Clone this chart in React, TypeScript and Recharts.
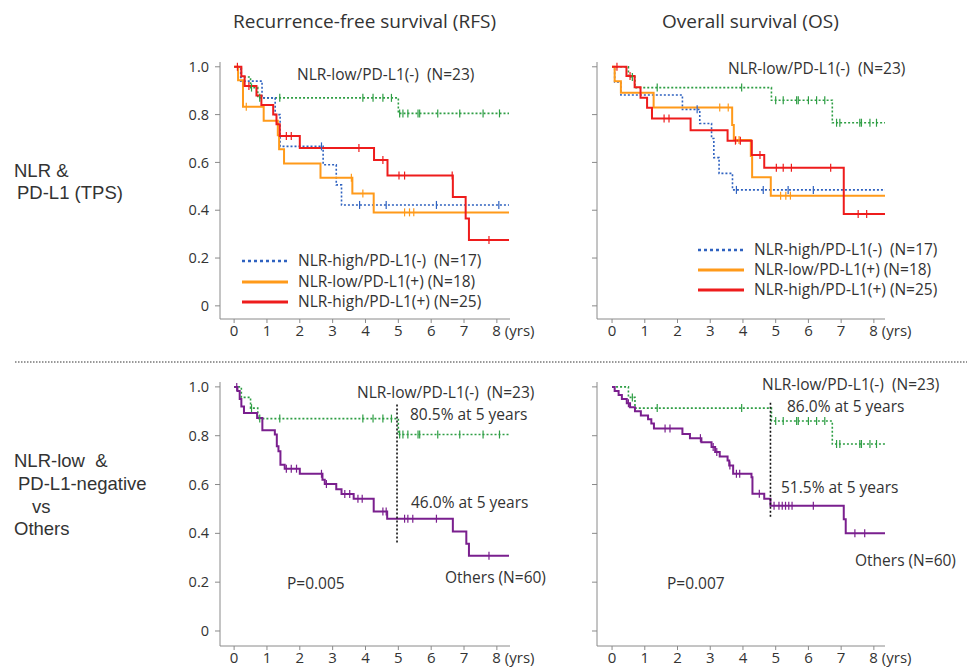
import { LineChart, Line, XAxis, YAxis } from "recharts"

const yearTicks = [0, 1, 2, 3, 4, 5, 6, 7, 8]
const survTicks = [0, 0.2, 0.4, 0.6, 0.8, 1]

// RFS, NLR-low/PD-L1(-) (N=23)
const rfsLowNegT = [0, 0.22, 0.5, 0.72, 5.0]
const rfsLowNegS = [1, 0.957, 0.913, 0.87, 0.805]
const rfsLowNegC = [0.53, 0.78, 1.39, 3.92, 4.23, 4.53, 4.79, 5.04, 5.14, 5.29, 5.6, 5.65, 6.2, 6.87, 7.58, 8.08]

// RFS, NLR-high/PD-L1(-) (N=17)
const rfsHighNegT = [0, 0.2, 0.85, 1.25, 1.4, 2.71, 3.11, 3.27]
const rfsHighNegS = [1, 0.94, 0.87, 0.8, 0.667, 0.59, 0.506, 0.422]
const rfsHighNegC = [2.66, 3.82, 4.63, 6.16, 8.06]

// RFS, NLR-low/PD-L1(+) (N=18)
const rfsLowPosT = [0, 0.12, 0.27, 0.9, 1.33, 1.37, 1.52, 2.63, 3.6, 4.25]
const rfsLowPosS = [1, 0.944, 0.833, 0.774, 0.714, 0.655, 0.595, 0.536, 0.47, 0.391]
const rfsLowPosC = [0.37, 3.57, 3.92, 5.19, 5.34, 5.47]

// RFS, NLR-high/PD-L1(+) (N=25)
const rfsHighPosT = [0, 0.22, 0.32, 0.68, 0.83, 1.19, 1.29, 1.39, 2.0, 4.26, 4.67, 6.66, 7.05, 7.15]
const rfsHighPosS = [1, 0.96, 0.92, 0.88, 0.84, 0.8, 0.76, 0.71, 0.66, 0.61, 0.545, 0.455, 0.365, 0.275]
const rfsHighPosC = [0.1, 0.45, 1.59, 1.74, 3.8, 4.53, 5.02, 5.19, 6.64, 7.76]

// RFS, Others (N=60)
const rfsOthersT = [0, 0.1, 0.17, 0.22, 0.3, 0.7, 0.86, 1.24, 1.3, 1.35, 1.41, 1.54, 2.0, 2.69, 2.76, 3.11, 3.27, 3.64, 4.25, 4.66, 6.66, 7.07, 7.15]
const rfsOthersS = [1, 0.983, 0.95, 0.92, 0.893, 0.873, 0.822, 0.805, 0.757, 0.736, 0.681, 0.665, 0.644, 0.62, 0.602, 0.581, 0.561, 0.542, 0.49, 0.46, 0.408, 0.357, 0.308]
const rfsOthersC = [0.08, 1.59, 1.74, 1.9, 2.66, 2.81, 3.37, 3.52, 3.77, 3.9, 4.53, 4.63, 5.19, 5.29, 5.44, 6.16, 7.76]

// OS, NLR-low/PD-L1(-) (N=23)
const osLowNegT = [0, 0.5, 0.7, 4.87, 6.73]
const osLowNegS = [1, 0.957, 0.913, 0.86, 0.766]
const osLowNegC = [0.62, 1.38, 3.96, 5.0, 5.23, 5.64, 5.69, 6.0, 6.25, 6.5, 6.86, 6.96, 7.57, 7.62, 7.88, 8.08]

// OS, NLR-high/PD-L1(-) (N=17)
const osHighNegT = [0, 0.08, 0.27, 2.15, 2.68, 3.04, 3.11, 3.27, 3.68]
const osHighNegS = [1, 0.937, 0.882, 0.822, 0.763, 0.7, 0.62, 0.554, 0.485]
const osHighNegC = [2.6, 3.8, 4.62, 5.38, 6.15]

// OS, NLR-low/PD-L1(+) (N=18)
const osLowPosT = [0, 0.08, 0.27, 1.27, 3.67, 3.72, 4.24, 4.28, 4.85]
const osLowPosS = [1, 0.94, 0.891, 0.83, 0.756, 0.694, 0.627, 0.538, 0.461]
const osLowPosC = [3.29, 3.55, 3.78, 3.88, 5.15, 5.31, 5.45]

// OS, NLR-high/PD-L1(+) (N=25)
const osHighPosT = [0, 0.44, 0.69, 0.87, 1.07, 1.22, 2.4, 3.53, 4.27, 4.65, 7.08]
const osHighPosS = [1, 0.961, 0.914, 0.87, 0.829, 0.784, 0.735, 0.691, 0.631, 0.578, 0.384]
const osHighPosC = [0.15, 0.55, 1.59, 1.74, 3.77, 3.92, 4.52, 5.02, 5.23, 5.48, 6.68, 7.52, 7.78]

// OS, Others (N=60)
const osOthersT = [0, 0.08, 0.2, 0.3, 0.45, 0.55, 0.7, 0.88, 1.1, 1.2, 1.28, 2.15, 2.38, 2.73, 3.04, 3.15, 3.29, 3.53, 3.58, 3.7, 4.26, 4.29, 4.65, 4.84, 7.08, 7.14]
const osOthersS = [1, 0.983, 0.967, 0.95, 0.933, 0.917, 0.9, 0.883, 0.867, 0.85, 0.83, 0.807, 0.79, 0.773, 0.754, 0.733, 0.715, 0.698, 0.678, 0.644, 0.63, 0.562, 0.542, 0.513, 0.458, 0.4]
const osOthersC = [0.5, 1.62, 1.77, 2.7, 3.09, 3.2, 3.6, 3.8, 3.9, 4.5, 4.95, 5.1, 5.2, 5.3, 5.4, 5.5, 6.15, 7.42, 7.72]

// 5-year marker lines
const rfsFiveYr = [{ t: 4.96, s: 0.362 }, { t: 4.96, s: 0.934 }]
const osFiveYr = [{ t: 4.84, s: 0.468 }, { t: 4.84, s: 0.938 }]

const GREEN = "#2e9e44"
const BLUE = "#2f62c0"
const ORANGE = "#ff9a1a"
const RED = "#ee1c1c"
const PURPLE = "#7a1f8e"
const AXIS = "#8a8a8a"
const TEXT = "#333"
const FONT = "'Open Sans', sans-serif"
const SIDE_FONT = "'Liberation Sans', Arial, sans-serif"

function km(times: number[], surv: number[], cens: number[], end: number) {
  const at = (x: number) => {
    let v = surv[0]
    times.forEach((t, i) => { if (t <= x) v = surv[i] })
    return v
  }
  const pts = times.map((t, i) => ({ t, s: surv[i], c: 0 }))
  cens.forEach((x) => pts.push({ t: x, s: at(x), c: 1 }))
  pts.push({ t: end, s: at(end), c: 0 })
  return pts.sort((a, b) => a.t - b.t)
}

const censorDot = (color: string) => (props: any) => {
  const { cx, cy, payload, index } = props
  if (!payload || !payload.c) return <g key={`n${index}`} />
  return <path key={`c${index}`} d={`M${cx},${cy - 4}V${cy + 4}`} stroke={color} strokeWidth={1.2} />
}

const XTick = (props: any) => {
  const { x, y, payload } = props
  const v = payload.value
  return (
    <text x={v === 8 ? x - 4.5 : x} y={y + 11} textAnchor={v === 8 ? "start" : "middle"}
      fontSize={15} fontFamily={FONT} fill={TEXT}>
      {v === 8 ? "8 (yrs)" : v}
    </text>
  )
}

const fmtY = (v: number) => (v === 0 ? "0" : v === 1 ? "1.0" : v.toFixed(1))

interface Series { data: any[]; color: string; width: number; dash?: string }

function Panel({ left, top, w, h, xMax, xMin, yMin, series, labels }: {
  left: number; top: number; w: number; h: number; xMin: number; xMax: number; yMin: number
  series: Series[]; labels: boolean
}) {
  const yw = 60, xh = 35, mt = 5, mr = 50
  return (
    <div style={{ position: "absolute", left: left - yw, top: top - mt }}>
      <LineChart width={yw + w + mr} height={mt + h + xh} margin={{ top: mt, right: mr, left: 0, bottom: 0 }}>
        <XAxis type="number" dataKey="t" domain={[xMin, xMax]} ticks={yearTicks} allowDataOverflow
          height={xh} tickSize={4} stroke={AXIS} tick={<XTick />} interval={0} />
        <YAxis type="number" dataKey="s" domain={[yMin, 1.02]} ticks={survTicks} allowDataOverflow
          width={yw} tickSize={5} tickMargin={6} stroke={AXIS} interval={0}
          tickFormatter={labels ? fmtY : () => ""}
          tick={{ fontSize: 14.5, fontFamily: FONT, fill: TEXT }} />
        {series.map((s, i) => (
          <Line key={i} data={s.data} dataKey="s" type="stepAfter" stroke={s.color}
            strokeWidth={s.width} strokeDasharray={s.dash} dot={censorDot(s.color)}
            activeDot={false} isAnimationActive={false} />
        ))}
      </LineChart>
    </div>
  )
}

function Txt({ x, y, size = 15.5, font = FONT, children }: { x: number; y: number; size?: number; font?: string; children: any }) {
  return (
    <div style={{ position: "absolute", left: x, top: y - size * 0.52, fontSize: size, lineHeight: 1,
      fontFamily: font, color: TEXT, whiteSpace: "pre" }}>{children}</div>
  )
}

function LegendRow({ x, y, color, dash, label }: { x: number; y: number; color: string; dash?: string; label: string }) {
  return (
    <>
      <svg style={{ position: "absolute", left: x, top: y - 3 }} width={48} height={6}>
        <line x1={0} y1={3} x2={46} y2={3} stroke={color} strokeWidth={dash ? 2.5 : 3} strokeDasharray={dash} />
      </svg>
      <Txt x={x + 56} y={y}>{label}</Txt>
    </>
  )
}

export default function App() {
  const end1 = 8.37, end2 = 8.34
  const dotted = "2 2"
  const topLeft: Series[] = [
    { data: km(rfsLowNegT, rfsLowNegS, rfsLowNegC, end1), color: GREEN, width: 1.6, dash: dotted },
    { data: km(rfsHighNegT, rfsHighNegS, rfsHighNegC, end1), color: BLUE, width: 1.6, dash: dotted },
    { data: km(rfsLowPosT, rfsLowPosS, rfsLowPosC, end1), color: ORANGE, width: 2 },
    { data: km(rfsHighPosT, rfsHighPosS, rfsHighPosC, end1), color: RED, width: 2 },
  ]
  const topRight: Series[] = [
    { data: km(osLowNegT, osLowNegS, osLowNegC, end2), color: GREEN, width: 1.6, dash: dotted },
    { data: km(osHighNegT, osHighNegS, osHighNegC, end2), color: BLUE, width: 1.6, dash: dotted },
    { data: km(osLowPosT, osLowPosS, osLowPosC, end2), color: ORANGE, width: 2 },
    { data: km(osHighPosT, osHighPosS, osHighPosC, end2), color: RED, width: 2 },
  ]
  const botLeft: Series[] = [
    { data: km(rfsLowNegT, rfsLowNegS, rfsLowNegC, end1), color: GREEN, width: 1.6, dash: dotted },
    { data: km(rfsOthersT, rfsOthersS, rfsOthersC, end1), color: PURPLE, width: 2 },
    { data: rfsFiveYr, color: "#111", width: 1.6, dash: dotted },
  ]
  const botRight: Series[] = [
    { data: km(osLowNegT, osLowNegS, osLowNegC, end2), color: GREEN, width: 1.6, dash: dotted },
    { data: km(osOthersT, osOthersS, osOthersC, end2), color: PURPLE, width: 2 },
    { data: osFiveYr, color: "#111", width: 1.6, dash: dotted },
  ]

  return (
    <div style={{ position: "relative", width: 967, height: 671, background: "#fff", overflow: "hidden" }}>
      <style>{`body{margin:0}`}</style>
      <Txt x={233} y={22} size={19}>Recurrence-free survival (RFS)</Txt>
      <Txt x={662} y={22} size={19}>Overall survival (OS)</Txt>

      <Txt x={14} y={172} size={18.5} font={SIDE_FONT}>NLR &amp;</Txt>
      <Txt x={17} y={194} size={18.5} font={SIDE_FONT}>PD-L1 (TPS)</Txt>
      <Txt x={14} y={462} size={18.5} font={SIDE_FONT}>{"NLR-low  &"}</Txt>
      <Txt x={18} y={485} size={18.5} font={SIDE_FONT}>PD-L1-negative</Txt>
      <Txt x={32} y={508} size={18.5} font={SIDE_FONT}>vs</Txt>
      <Txt x={14} y={530} size={18.5} font={SIDE_FONT}>Others</Txt>

      <Panel left={220} top={62} w={290} h={257} xMin={-0.43} xMax={8.4} yMin={-0.055} series={topLeft} labels />
      <Panel left={597} top={62} w={288} h={257} xMin={-0.46} xMax={8.34} yMin={-0.055} series={topRight} labels={false} />
      <Panel left={220} top={382} w={290} h={264} xMin={-0.43} xMax={8.4} yMin={-0.0615} series={botLeft} labels />
      <Panel left={597} top={382} w={288} h={264} xMin={-0.46} xMax={8.34} yMin={-0.0615} series={botRight} labels={false} />

      <Txt x={297} y={75}>NLR-low/PD-L1(-)  (N=23)</Txt>
      <LegendRow x={242} y={261} color={BLUE} dash="3 3" label="NLR-high/PD-L1(-)  (N=17)" />
      <LegendRow x={242} y={282} color={ORANGE} label="NLR-low/PD-L1(+) (N=18)" />
      <LegendRow x={242} y={302} color={RED} label="NLR-high/PD-L1(+) (N=25)" />

      <Txt x={728} y={69}>NLR-low/PD-L1(-)  (N=23)</Txt>
      <LegendRow x={698} y={250} color={BLUE} dash="3 3" label="NLR-high/PD-L1(-)  (N=17)" />
      <LegendRow x={698} y={270} color={ORANGE} label="NLR-low/PD-L1(+) (N=18)" />
      <LegendRow x={698} y={290} color={RED} label="NLR-high/PD-L1(+) (N=25)" />

      <svg style={{ position: "absolute", left: 0, top: 360 }} width={967} height={4}>
        <line x1={15} y1={2} x2={967} y2={2} stroke="#333" strokeWidth={1} strokeDasharray="1.5 1.5" />
      </svg>

      <Txt x={357} y={393}>NLR-low/PD-L1(-)  (N=23)</Txt>
      <Txt x={410} y={415}>80.5% at 5 years</Txt>
      <Txt x={411} y={503}>46.0% at 5 years</Txt>
      <Txt x={287} y={584}>P=0.005</Txt>
      <Txt x={445} y={578}>Others (N=60)</Txt>

      <Txt x={762} y={385}>NLR-low/PD-L1(-)  (N=23)</Txt>
      <Txt x={787} y={407}>86.0% at 5 years</Txt>
      <Txt x={781} y={488}>51.5% at 5 years</Txt>
      <Txt x={667} y={584}>P=0.007</Txt>
      <Txt x={855} y={561}>Others (N=60)</Txt>
    </div>
  )
}
